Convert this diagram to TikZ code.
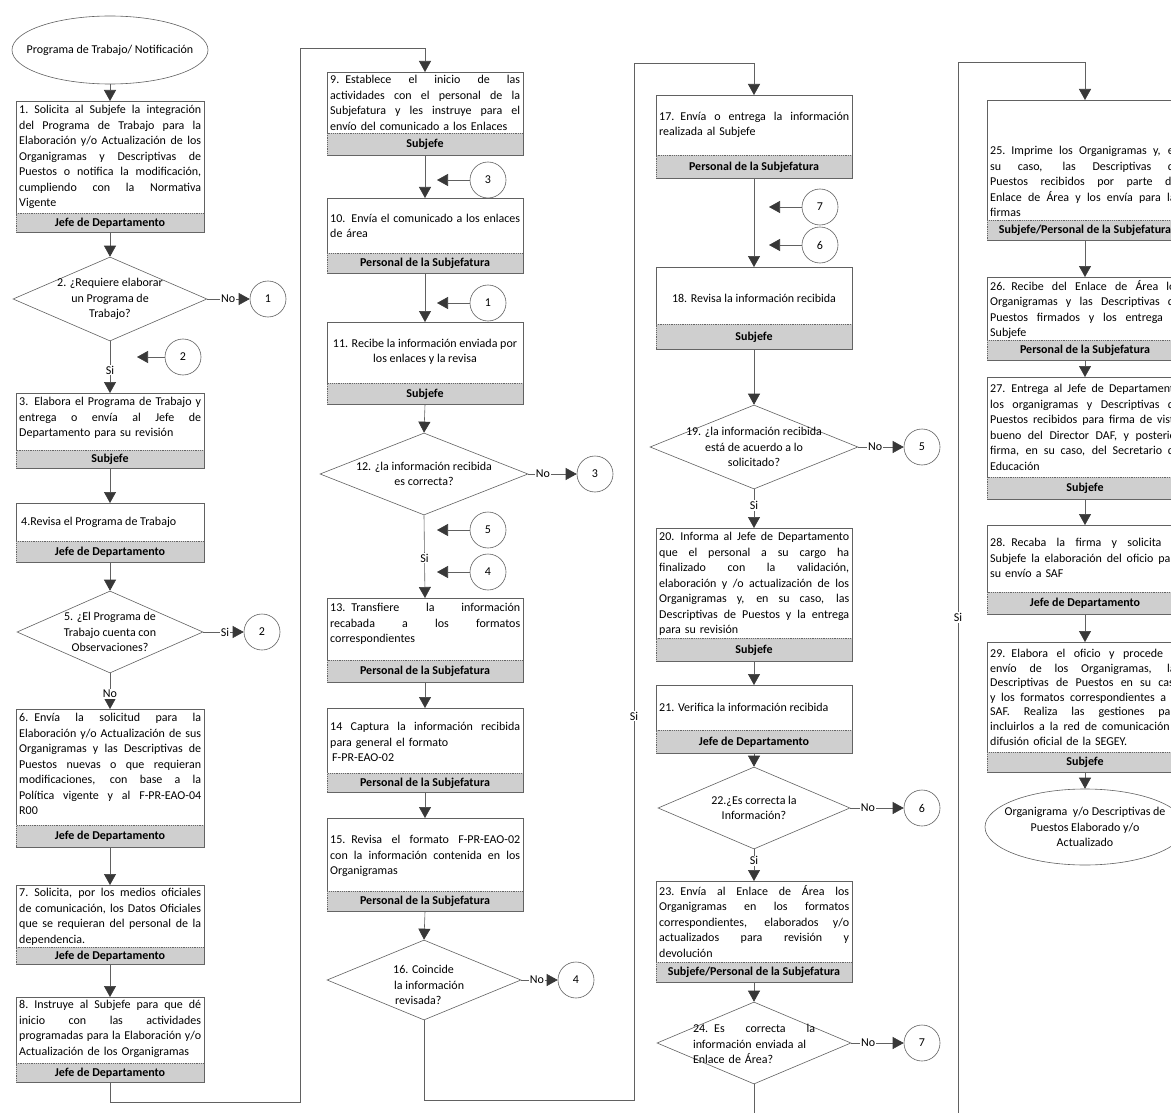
\documentclass[tikz,border=0pt]{standalone}
\usepackage{fontspec}
\setmainfont{Carlito}
\usetikzlibrary{shapes.geometric,arrows.meta,patterns.meta}
\colorlet{lc}{black!62}
\colorlet{tipc}{black!78}
\newcommand\tfont{\fontsize{12}{15.5}\selectfont\hyphenpenalty=10000\exhyphenpenalty=10000}
\newcommand\sfnt{\fontsize{12}{14.6}\selectfont\hyphenpenalty=10000\exhyphenpenalty=10000}
\newcommand\bfnt{\fontsize{12}{13}\selectfont\bfseries}
\newcommand\jl[1]{\makebox[\hsize][s]{\spaceskip=.23em plus 3em\relax#1}\\}
\newcommand\mkbox[7]{%
  \node[box, minimum width=#4pt, minimum height={#5pt+#6pt}] (#1) at (#2,#3) {};
  \node[band, minimum width=#4pt, minimum height=#6pt] (l#1) at (#1.south) {#7};}
\begin{document}
\begin{tikzpicture}[x=1pt,y=-1pt,
  box/.style={draw=lc,line width=0.6pt,inner sep=0pt,anchor=north,fill=white},
  band/.style={draw=lc,line width=0.5pt,dash pattern=on 1.2pt off 1pt,fill=black!17,
     postaction={pattern={Dots[radius=0.35pt,distance=2pt]},pattern color=black!40},
     inner sep=0pt,anchor=south,font=\bfnt},
  txt/.style={inner sep=0pt,align=left,font=\tfont},
  ctxt/.style={inner sep=0pt,align=center,font=\tfont},
  dia/.style={diamond,draw=lc,line width=0.6pt,inner sep=0pt,fill=white},
  ell/.style={ellipse,draw=lc,line width=0.6pt,inner sep=0pt,fill=white},
  cir/.style={circle,draw=lc,line width=0.6pt,minimum size=36pt,inner sep=0pt,font=\tfont},
  arr/.style={draw=lc,line width=0.6pt,-{Triangle[length=11pt,width=12pt,color=tipc]}},
  lbl/.style={fill=white,inner sep=1pt,font=\tfont}]
\useasboundingbox (0,0) rectangle (1171,1113);
\clip (0,0) rectangle (1171,1113);
\fill[white] (0,0) rectangle (1171,1113);

% ---------------- column 1 ----------------
\node[ell, minimum width=196pt, minimum height=68pt] (s) at (110,50) {};
\node[ctxt] (ts) at (s) {Programa de Trabajo/ Notificación};

\mkbox{b1}{110}{101}{188}{112}{19}{Jefe de Departamento}
\node[txt, text width=182pt, anchor=north west] (t1) at (19,105) {\jl{1. Solicita al Subjefe la integración}\jl{del Programa de Trabajo para la}\jl{Elaboración y/o Actualización de los}\jl{Organigramas y Descriptivas de}\jl{Puestos o notifica la modificación,}\jl{cumpliendo con la Normativa}Vigente};

\node[dia, minimum width=194pt, minimum height=84pt] (d2) at (110,299) {};
\node[ctxt] (td2) at (d2) {2. ¿Requiere elaborar\\un Programa de\\Trabajo?};
\node[cir] (c1a) at (268,299) {1};
\node[cir] (ci2) at (183,357) {2};
\coordinate (e2) at (137,357);

\mkbox{b3}{110}{393}{188}{57}{18}{Subjefe}
\node[txt, text width=182pt, anchor=north west] (t3) at (19,397) {\jl{3. Elabora el Programa de Trabajo y}\jl{entrega o envía al Jefe de}Departamento para su revisión};

\mkbox{b4}{110}{503}{188}{38}{21}{Jefe de Departamento}
\node[txt, anchor=west] (t4) at (21,522) {4.Revisa el Programa de Trabajo};

\node[dia, minimum width=186pt, minimum height=82pt] (d5) at (110,632) {};
\node[ctxt] (td5) at (d5) {5. ¿El Programa de\\Trabajo cuenta con\\Observaciones?};
\node[cir] (c2a) at (262,632) {2};

\mkbox{b6}{110}{709}{188}{116}{22}{Jefe de Departamento}
\node[txt, text width=182pt, anchor=north west] (t6) at (19,713) {\jl{6. Envía la solicitud para la}\jl{Elaboración y/o Actualización de sus}\jl{Organigramas y las Descriptivas de}\jl{Puestos nuevas o que requieran}\jl{modificaciones, con base a la}\jl{Política vigente y al F-PR-EAO-04}R00};

\mkbox{b7}{110}{885}{188}{62}{17}{Jefe de Departamento}
\node[txt, text width=182pt, anchor=north west] (t7) at (19,888) {\jl{7. Solicita, por los medios oficiales}\jl{de comunicación, los Datos Oficiales}\jl{que se requieran del personal de la}dependencia.};

\mkbox{b8}{110}{997}{188}{66}{19}{Jefe de Departamento}
\node[txt, text width=182pt, anchor=north west] (t8) at (19,1000) {\jl{8. Instruye al Subjefe para que dé}\jl{inicio con las actividades}\jl{programadas para la Elaboración y/o}Actualización de los Organigramas};

\coordinate (r1) at (300,1102);
\coordinate (r2) at (300,48);

% ---------------- column 2 ----------------
\mkbox{b9}{425}{72}{196}{61}{22}{Subjefe}
\node[txt, text width=190pt, anchor=north west] (t9) at (330,75) {\jl{9. Establece el inicio de las}\jl{actividades con el personal de la}\jl{Subjefatura y les instruye para el}envío del comunicado a los Enlaces};
\node[cir] (ci3) at (488,180) {3};
\coordinate (e3) at (437,180);

\mkbox{b10}{425}{198}{196}{55}{20}{Personal de la Subjefatura}
\node[txt, text width=190pt, anchor=west] (t10) at (330,226) {\jl{10. Envía el comunicado a los enlaces}de área};
\node[cir] (ci1) at (488,303) {1};
\coordinate (e1) at (437,303);

\mkbox{b11}{425}{322}{196}{61}{21}{Subjefe}
\node[ctxt] (t11) at (425,352) {11. Recibe la información enviada por\\los enlaces y la revisa};

\node[dia, minimum width=208pt, minimum height=82pt] (d12) at (424,474) {};
\node[ctxt] (td12) at (d12) {12. ¿la información recibida\\es correcta?};
\node[cir] (c3a) at (595,474) {3};
\node[cir] (ci5) at (488,530) {5};
\node[cir] (ci4) at (488,572) {4};
\coordinate (e5) at (437,530);
\coordinate (e4) at (437,572);

\mkbox{b13}{425}{598}{196}{62}{22}{Personal de la Subjefatura}
\node[txt, text width=190pt, anchor=north west] (t13) at (330,603) {\jl{13. Transfiere la información}\jl{recabada a los formatos}correspondientes};

\mkbox{b14}{425}{708}{196}{65}{19}{Personal de la Subjefatura}
\node[txt, text width=190pt, anchor=west] (t14) at (330,742) {\jl{14 Captura la información recibida}para general el formato\\\hspace*{2pt}F-PR-EAO-02};

\mkbox{b15}{425}{818}{196}{73}{20}{Personal de la Subjefatura}
\node[txt, text width=190pt, anchor=west] (t15) at (330,856) {\jl{15. Revisa el formato F-PR-EAO-02}\jl{con la información contenida en los}Organigramas};

\node[dia, minimum width=194pt, minimum height=80pt] (d16) at (424,980) {};
\node[txt, anchor=west] (td16) at (393,985) {16. Coincide\\\hspace*{1pt}la información\\\hspace*{2pt}revisada?};
\node[cir] (c4a) at (576,980) {4};

\coordinate (r3) at (634,1100);
\coordinate (r4) at (634,63);

% ---------------- column 3 ----------------
\mkbox{b17}{754}{95}{196}{60}{23}{Personal de la Subjefatura}
\node[txt, text width=190pt, anchor=west] (t17) at (659,125) {\jl{17. Envía o entrega la información}realizada al Subjefe};
\node[cir] (ci7) at (820,207) {7};
\node[cir] (ci6) at (820,245) {6};
\coordinate (e7) at (769,207);
\coordinate (e6) at (769,245);

\mkbox{b18}{754}{267}{196}{57}{25}{Subjefe}
\node[ctxt] (t18) at (754,298) {18. Revisa la información recibida};

\node[dia, minimum width=208pt, minimum height=84pt] (d19) at (754,447) {};
\node[ctxt] (td19) at (d19) {19. ¿la información recibida\\está de acuerdo a lo\\solicitado?};
\node[cir] (c5a) at (922,447) {5};

\mkbox{b20}{754}{528}{196}{110}{23}{Subjefe}
\node[txt, text width=190pt, anchor=north west] (t20) at (659,532) {\jl{20. Informa al Jefe de Departamento}\jl{que el personal a su cargo ha}\jl{finalizado con la validación,}\jl{elaboración y /o actualización de los}\jl{Organigramas y, en su caso, las}\jl{Descriptivas de Puestos y la entrega}para su revisión};

\mkbox{b21}{754}{685}{196}{45}{23}{Jefe de Departamento}
\node[txt, anchor=west] (t21) at (659,707) {21. Verifica la información recibida};

\node[dia, minimum width=192pt, minimum height=82pt] (d22) at (754,808) {};
\node[ctxt] (td22) at (d22) {22.¿Es correcta la\\Información?};
\node[cir] (c6a) at (922,808) {6};

\mkbox{b23}{754}{881}{196}{81}{20}{Subjefe/Personal de la Subjefatura}
\node[txt, text width=190pt, anchor=north west] (t23) at (659,885) {\jl{23. Envía al Enlace de Área los}\jl{Organigramas en los formatos}\jl{correspondientes, elaborados y/o}\jl{actualizados para revisión y}devolución};

\node[dia, minimum width=194pt, minimum height=82pt] (d24) at (754,1043) {};
\node[txt, text width=122pt, anchor=center] (td24) at (754,1044) {\jl{24. Es correcta la}información enviada al\\Enlace de Área?};
\node[cir] (c7a) at (922,1043) {7};

\coordinate (r5) at (958,1130);
\coordinate (r6) at (958,62);

% ---------------- column 4 ----------------
\mkbox{b25}{1085}{100}{196}{120}{20}{Subjefe/Personal de la Subjefatura}
\node[txt, text width=190pt, anchor=south west] (t25) at (990,217) {\jl{25. Imprime los Organigramas y, en}\jl{su caso, las Descriptivas de}\jl{Puestos recibidos por parte del}\jl{Enlace de Área y los envía para las}firmas};

\mkbox{b26}{1085}{277}{196}{63}{20}{Personal de la Subjefatura}
\node[txt, text width=190pt, anchor=north west] (t26) at (990,280) {\jl{26. Recibe del Enlace de Área los}\jl{Organigramas y las Descriptivas de}\jl{Puestos firmados y los entrega al}Subjefe};

\mkbox{b27}{1085}{377}{196}{100}{22}{Subjefe}
\node[txt, text width=190pt, anchor=north west] (t27) at (990,384) {\jl{27. Entrega al Jefe de Departamento}\jl{los organigramas y Descriptivas de}\jl{Puestos recibidos para firma de visto}\jl{bueno del Director DAF, y posterior}\jl{firma, en su caso, del Secretario de}Educación};

\mkbox{b28}{1085}{525}{196}{67}{22}{Jefe de Departamento}
\node[txt, text width=190pt, anchor=west] (t28) at (990,558) {\jl{28. Recaba la firma y solicita al}\jl{Subjefe la elaboración del oficio para}su envío a SAF};

\mkbox{b29}{1085}{642}{196}{110}{20}{Subjefe}
\node[txt, text width=190pt, anchor=north west, font=\sfnt] (t29) at (990,649) {\jl{29. Elabora el oficio y procede al}\jl{envío de los Organigramas, las}\jl{Descriptivas de Puestos en su caso}\jl{y los formatos correspondientes a la}\jl{SAF. Realiza las gestiones para}\jl{incluirlos a la red de comunicación y}difusión oficial de la SEGEY.};

\node[ell, minimum width=200pt, minimum height=76pt] (f) at (1085,827) {};
\node[ctxt] (tf) at (f) {Organigrama\ \ y/o Descriptivas de\\Puestos Elaborado y/o\\Actualizado};

% ---------------- connectors ----------------
\draw[arr] (s.south) -- (b1.north);
\draw[arr] (b1.south) -- (d2.north);
\draw[arr] (d2.east) -- node[lbl,pos=.49]{No} (c1a.west);
\draw[arr] (d2.south) -- node[lbl,pos=.56]{Si} (b3.north);
\draw[arr] (ci2.west) -- (e2);
\draw[arr] (b3.south) -- (b4.north);
\draw[arr] (b4.south) -- (d5.north);
\draw[arr] (d5.east) -- node[lbl,pos=.54]{Si} (c2a.west);
\draw[arr] (d5.south) -- node[lbl,pos=.57]{No} (b6.north);
\draw[arr] (b6.south) -- (b7.north);
\draw[arr] (b7.south) -- (b8.north);
\draw[arr] (b8.south) |- (r1) -- (r2) -| (b9.north);

\draw[arr] (b9.south) -- (b10.north);
\draw[arr] (ci3.west) -- (e3);
\draw[arr] (b10.south) -- (b11.north);
\draw[arr] (ci1.west) -- (e1);
\draw[arr] (b11.south) -- (d12.north);
\draw[arr] (d12.east) -- node[lbl,pos=.3]{No} (c3a.west);
\draw[arr] (d12.south) -- node[lbl,pos=.52]{Si} (b13.north);
\draw[arr] (ci5.west) -- (e5);
\draw[arr] (ci4.west) -- (e4);
\draw[arr] (b13.south) -- (b14.north);
\draw[arr] (b14.south) -- (b15.north);
\draw[arr] (b15.south) -- (d16.north);
\draw[arr] (d16.east) -- node[lbl,pos=.43]{No} (c4a.west);
\draw[arr] (d16.south) |- (r3) -- node[lbl,pos=.37]{Si} (r4) -| (b17.north);

\draw[arr] (b17.south) -- (b18.north);
\draw[arr] (ci7.west) -- (e7);
\draw[arr] (ci6.west) -- (e6);
\draw[arr] (b18.south) -- (d19.north);
\draw[arr] (d19.east) -- node[lbl,pos=.37]{No} (c5a.west);
\draw[arr] (d19.south) -- node[lbl,pos=.42]{Si} (b20.north);
\draw[arr] (b20.south) -- (b21.north);
\draw[arr] (b21.south) -- (d22.north);
\draw[arr] (d22.east) -- node[lbl,pos=.33]{No} (c6a.west);
\draw[arr] (d22.south) -- node[lbl,pos=.36]{Si} (b23.north);
\draw[arr] (b23.south) -- (d24.north);
\draw[arr] (d24.east) -- node[lbl,pos=.32]{No} (c7a.west);
\draw[arr] (d24.south) |- (r5) -- node[lbl,pos=.48]{Si} (r6) -| (b25.north);

\draw[arr] (b25.south) -- (b26.north);
\draw[arr] (b26.south) -- (b27.north);
\draw[arr] (b27.south) -- (b28.north);
\draw[arr] (b28.south) -- (b29.north);
\draw[arr] (b29.south) -- (f.north);
\end{tikzpicture}
\end{document}
